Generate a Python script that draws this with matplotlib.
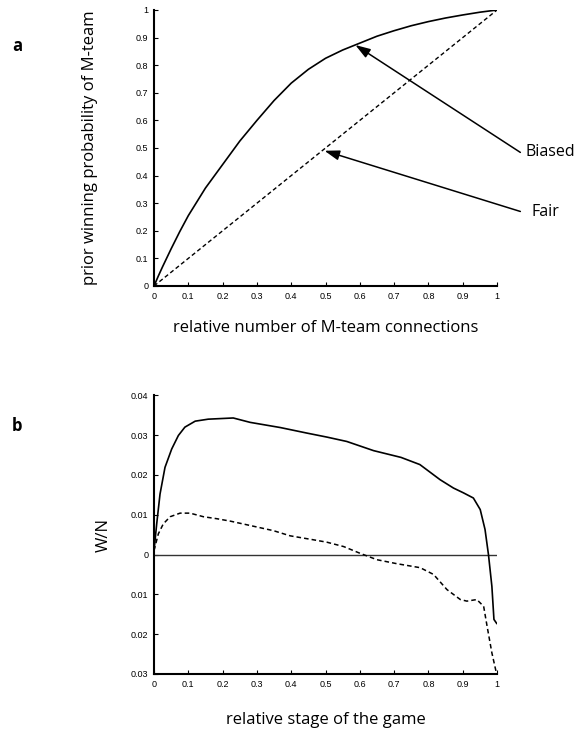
import matplotlib
matplotlib.use("Agg")
import matplotlib.pyplot as plt
from matplotlib.ticker import FuncFormatter

# panel a: prior winning probability vs relative number of M-team connections
conn_x = [0, 0.0125, 0.025, 0.05, 0.075, 0.1, 0.15, 0.2, 0.25, 0.3, 0.35,
          0.4, 0.45, 0.5, 0.55, 0.6, 0.65, 0.7, 0.75, 0.8, 0.85, 0.9, 0.95,
          1.0]
biased_y = [0, 0.036, 0.07, 0.135, 0.197, 0.255, 0.355, 0.44, 0.525, 0.60,
            0.672, 0.735, 0.785, 0.825, 0.855, 0.88, 0.905, 0.925, 0.943,
            0.958, 0.971, 0.982, 0.992, 1.0]
fair_y = [0, 0.0125, 0.025, 0.05, 0.075, 0.1, 0.15, 0.2, 0.25, 0.3, 0.35,
          0.4, 0.45, 0.5, 0.55, 0.6, 0.65, 0.7, 0.75, 0.8, 0.85, 0.9, 0.95,
          1.0]

# panel b: W/N vs relative stage of the game
stage_biased = [0, 0.0078, 0.0175, 0.032, 0.0515, 0.071, 0.090, 0.12, 0.158,
                0.231, 0.28, 0.368, 0.446, 0.504, 0.562, 0.64, 0.72, 0.775,
                0.834, 0.873, 0.902, 0.931, 0.951, 0.965, 0.975, 0.985, 0.991,
                0.999]
wn_biased = [0.001, 0.0077, 0.0152, 0.0219, 0.0265, 0.0299, 0.032, 0.0335,
             0.034, 0.0343, 0.0332, 0.0319, 0.0305, 0.0295, 0.0284, 0.0261,
             0.0244, 0.0226, 0.0188, 0.0167, 0.0155, 0.0142, 0.0113, 0.0063,
             0.0, -0.008, -0.0163, -0.0173]
stage_fair = [0, 0.0126, 0.027, 0.047, 0.076, 0.105, 0.144, 0.183, 0.222,
              0.28, 0.348, 0.397, 0.465, 0.504, 0.553, 0.601, 0.65, 0.708,
              0.776, 0.815, 0.854, 0.893, 0.912, 0.941, 0.961, 0.971, 0.985,
              0.998]
wn_fair = [0.001, 0.0052, 0.0077, 0.0095, 0.0104, 0.0104, 0.0095, 0.009,
           0.0084, 0.0073, 0.006, 0.0047, 0.0037, 0.0031, 0.002, 0.0003,
           -0.0013, -0.0023, -0.0033, -0.005, -0.0088, -0.0113, -0.0117,
           -0.0113, -0.013, -0.018, -0.0247, -0.0297]

ticks01 = [0, 0.1, 0.2, 0.3, 0.4, 0.5, 0.6, 0.7, 0.8, 0.9, 1]
ticks_wn = [-0.03, -0.02, -0.01, 0, 0.01, 0.02, 0.03, 0.04]

label_font = "Open Sans"
tick_font = "Liberation Sans"


def style_axes(ax):
    for side in ("top", "right"):
        ax.spines[side].set_visible(False)
    for side in ("left", "bottom"):
        ax.spines[side].set_linewidth(1.5)
    ax.tick_params(direction="in", length=3, width=0.8, labelsize=6.5, pad=4)
    for lab in ax.get_xticklabels() + ax.get_yticklabels():
        lab.set_fontfamily(tick_font)


fig = plt.figure(figsize=(5.76, 7.35), dpi=100)

ax1 = fig.add_axes([0.2674, 0.6109, 0.5955, 0.3755])
ax1.plot(conn_x, biased_y, color="k", lw=1.2)
ax1.plot(conn_x, fair_y, color="k", lw=1.0, ls=(0, (3, 2)))
ax1.set_xlim(0, 1)
ax1.set_ylim(0, 1)
ax1.set_xticks(ticks01)
ax1.set_yticks(ticks01)
ax1.xaxis.set_major_formatter(FuncFormatter(lambda v, p: f"{v:g}"))
ax1.yaxis.set_major_formatter(FuncFormatter(lambda v, p: f"{v:g}"))
style_axes(ax1)
arrow = dict(arrowstyle="-|>,head_length=0.9,head_width=0.3", color="k",
             lw=1.1, shrinkA=0, shrinkB=0)
ax1.annotate("", xy=(0.587, 0.873), xytext=(1.068, 0.484),
             arrowprops=arrow, annotation_clip=False)
ax1.annotate("", xy=(0.497, 0.49), xytext=(1.068, 0.27),
             arrowprops=arrow, annotation_clip=False)
ax1.text(1.083, 0.487, "Biased", fontsize=11.5, family=label_font,
         va="center", ha="left")
ax1.text(1.1, 0.268, "Fair", fontsize=11.5, family=label_font,
         va="center", ha="left")
ax1.set_xlabel("relative number of M-team connections", fontsize=12,
               family=label_font, labelpad=14)
ax1.set_ylabel("prior winning probability of M-team", fontsize=12,
               family=label_font, labelpad=27)

ax2 = fig.add_axes([0.2674, 0.083, 0.5955, 0.3792])
ax2.axhline(0, color="#333333", lw=1.0)
ax2.plot(stage_biased, wn_biased, color="k", lw=1.2)
ax2.plot(stage_fair, wn_fair, color="k", lw=1.1, ls=(0, (3, 2)))
ax2.set_xlim(0, 1)
ax2.set_ylim(-0.03, 0.04)
ax2.set_xticks(ticks01)
ax2.set_yticks(ticks_wn)
ax2.xaxis.set_major_formatter(FuncFormatter(lambda v, p: f"{v:g}"))
ax2.yaxis.set_major_formatter(FuncFormatter(
    lambda v, p: "0" if abs(v) < 1e-9 else f"{abs(v):.2f}"))
style_axes(ax2)
ax2.set_xlabel("relative stage of the game", fontsize=12, family=label_font,
               labelpad=17)
ax2.set_ylabel("W/N", fontsize=12, family=label_font, labelpad=14)

fig.text(0.021, 0.931, "a", fontsize=12, weight="bold", family=label_font)
fig.text(0.021, 0.413, "b", fontsize=12, weight="bold", family=label_font)

fig.savefig("out.png", dpi=100)
